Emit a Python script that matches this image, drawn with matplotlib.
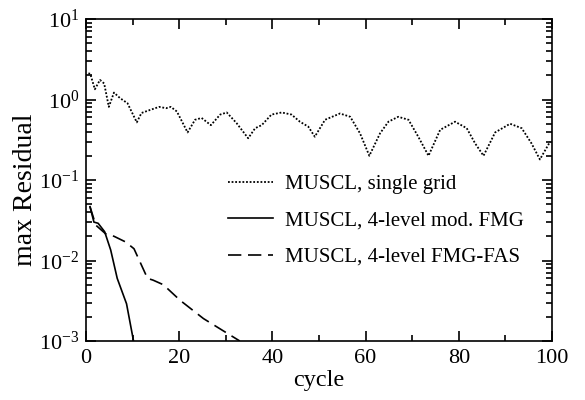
import math
import matplotlib
matplotlib.use("Agg")
import matplotlib.pyplot as plt
from matplotlib.ticker import LogLocator, FixedLocator, NullFormatter, FuncFormatter

plt.rcParams['font.family'] = ['Liberation Serif', 'DejaVu Serif']
plt.rcParams['mathtext.fontset'] = 'custom'
plt.rcParams['mathtext.rm'] = 'Liberation Serif'

# single grid (dotted)
sg_x = [0.5, 0.9, 1.9, 3.0, 3.9, 4.9, 6.0, 7.3, 8.9, 10.9, 11.9, 13.7, 15.7, 17.2, 18.2, 19.5,
        21.8, 23.4, 24.8, 26.8, 28.8, 30.2, 32.3, 34.8, 36.3, 37.7, 39.8, 42.0, 44.1, 45.9,
        47.7, 49.1, 51.3, 54.5, 56.7, 58.8, 60.8, 63.1, 64.9, 67.0, 69.2, 71.3, 73.5, 76.0,
        79.2, 81.7, 83.5, 85.3, 87.8, 91.0, 93.5, 95.6, 97.4, 99.6]
sg_y = [2.1, 2.1, 1.34, 1.75, 1.58, 0.81, 1.22, 1.04, 0.9, 0.52, 0.68, 0.74, 0.81, 0.78, 0.81, 0.71,
        0.39, 0.56, 0.59, 0.48, 0.65, 0.69, 0.51, 0.33, 0.44, 0.48, 0.65, 0.69, 0.65, 0.53,
        0.46, 0.345, 0.56, 0.67, 0.61, 0.38, 0.20, 0.38, 0.53, 0.61, 0.56, 0.345, 0.20, 0.42,
        0.53, 0.44, 0.285, 0.20, 0.39, 0.50, 0.44, 0.285, 0.18, 0.30]

# 4-level mod. FMG (solid)
fmg_x = [0.86, 1.7, 2.6, 4.0, 5.3, 6.7, 8.7, 10.2]
fmg_y = [0.0466, 0.030, 0.029, 0.0228, 0.0135, 0.006, 0.0029, 0.001]

# 4-level FMG-FAS (dashed)
fas_x = [0.86, 2.1, 4.2, 6.0, 8.5, 10.3, 13.2, 14.4, 16.6, 20.2, 25.2, 29.8, 33.0]
fas_y = [0.0466, 0.0275, 0.0215, 0.020, 0.017, 0.014, 0.006, 0.0057, 0.005, 0.0032, 0.0019, 0.0013, 0.001]

labels = ['MUSCL, single grid', 'MUSCL, 4-level mod. FMG', 'MUSCL, 4-level FMG-FAS']

fig = plt.figure(figsize=(5.85, 4.0), dpi=100)
ax = fig.add_axes([0.147, 0.1475, 0.7966, 0.805])

ax.plot(sg_x, sg_y, color='black', linestyle=(0, (1.0, 1.0)), linewidth=1.3, label=labels[0])
ax.plot(fmg_x, fmg_y, color='black', linestyle='-', linewidth=1.2, label=labels[1])
ax.plot(fas_x, fas_y, color='black', linestyle=(0, (8, 4)), linewidth=1.2, label=labels[2])

ax.set_yscale('log')
ax.set_xlim(0, 100)
ax.set_ylim(1e-3, 1e1)

ax.xaxis.set_major_locator(FixedLocator([0, 20, 40, 60, 80, 100]))
ax.xaxis.set_minor_locator(FixedLocator([10, 30, 50, 70, 90]))
ax.yaxis.set_major_locator(LogLocator(base=10, numticks=10))
ax.yaxis.set_minor_locator(LogLocator(base=10, subs=range(2, 10), numticks=20))
ax.yaxis.set_minor_formatter(NullFormatter())
ax.yaxis.set_major_formatter(FuncFormatter(lambda v, p: r'$\mathregular{10^{%d}}$' % round(math.log10(v))))

ax.tick_params(which='both', direction='in', top=True, right=True, width=1.2, labelsize=16, colors='black')
ax.tick_params(which='major', length=7)
ax.tick_params(which='minor', length=4)
ax.tick_params(axis='x', which='major', pad=6)
ax.tick_params(axis='y', which='major', pad=5)
for s in ax.spines.values():
    s.set_linewidth(1.2)

ax.set_xlabel('cycle', fontsize=17.5, labelpad=1)
ax.set_ylabel('max Residual', fontsize=20)
ax.yaxis.set_label_coords(-0.103, 0.47)

leg = ax.legend(loc='upper left', bbox_to_anchor=(0.2645, 0.5745), frameon=False, fontsize=15,
                handlelength=2.16, handletextpad=0.58, labelspacing=0.8)

fig.savefig('out.png', dpi=100)
